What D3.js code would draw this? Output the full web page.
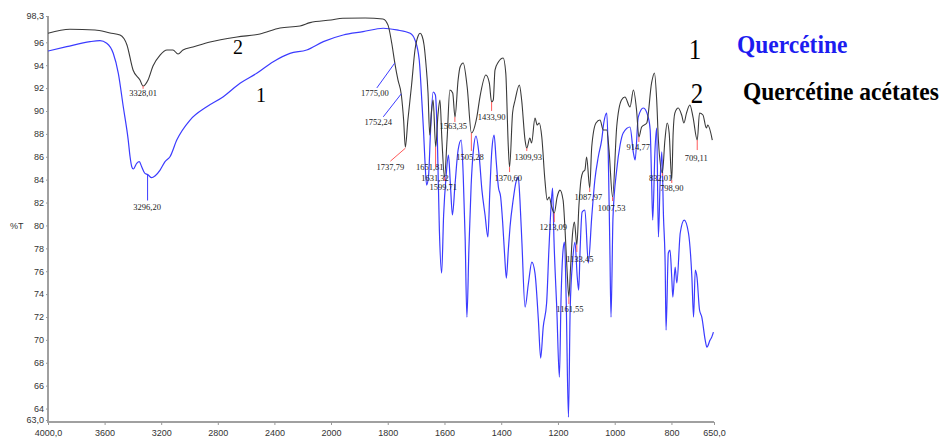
<!DOCTYPE html>
<html>
<head>
<meta charset="utf-8">
<script src="https://cdn.jsdelivr.net/npm/d3@7"></script>
<style>
  body { margin: 0; background: #fff; }
  .tick text { font-family: "Liberation Sans", Arial, sans-serif; font-size: 9px; fill: #333; }
  .tick line { stroke: #999; }
  .domain { stroke: #a0a0a0; stroke-width: 2px; }
  .peak { font-family: "Liberation Serif", "Times New Roman", serif; font-size: 8.5px; fill: #222; }
</style>
</head>
<body>
<svg width="952" height="444"></svg>
<script>
// spectrum 1: Quercétine (blue)
var wnBlue = [4000, 3868, 3703, 3633, 3585, 3539, 3503, 3468, 3433, 3420, 3408, 3397, 3373, 3355, 3338, 3315, 3296, 3267, 3244, 3208,
  3173, 3138, 3090, 2996, 2878, 2761, 2643, 2525, 2408, 2290, 2172, 2054, 1957, 1887, 1816, 1768, 1721, 1704, 1689, 1680,
  1674, 1669, 1663, 1656, 1649, 1640, 1632, 1625, 1618, 1610, 1603, 1594, 1586, 1579, 1572, 1563, 1552, 1541, 1534, 1527,
  1521, 1514, 1506, 1498, 1489, 1478, 1468, 1457, 1447, 1440, 1433, 1425, 1418, 1410, 1402, 1395, 1388, 1382, 1375, 1369,
  1358, 1348, 1340, 1334, 1327, 1316, 1304, 1292, 1281, 1269, 1261, 1252, 1240, 1232, 1224, 1219, 1214, 1204, 1195, 1189,
  1182, 1177, 1171, 1163, 1157, 1148, 1140, 1132, 1127, 1122, 1115, 1105, 1093, 1081, 1070, 1058, 1046, 1038, 1028, 1023,
  1017, 1013, 1006, 993, 981, 970, 946, 934, 928, 917, 899, 882, 875, 870, 866, 858, 852, 846, 840, 834,
  828, 822, 819, 811, 805, 799, 795, 787, 781, 769, 755, 740, 728, 722, 716, 710, 701, 693, 681, 675,
  664, 658, 652];
var tBlue = [95.24, 95.62, 96.06, 96.14, 95.92, 95.04, 93.29, 90.37, 87.46, 86.0, 85.13, 84.93, 85.43, 85.57, 85.13, 84.55, 84.45, 84.17, 84.32, 84.84,
  85.57, 86.0, 87.46, 89.21, 90.37, 91.25, 92.42, 93.29, 94.31, 95.04, 95.33, 96.06, 96.64, 96.93, 97.23, 97.08, 96.79, 96.2, 94.46, 90.96,
  88.34, 85.72, 83.53, 84.4, 88.34, 91.66, 91.4, 87.46, 79.6, 75.84, 80.91, 84.41, 86.15, 83.53, 80.91, 83.53, 86.59, 87.46, 84.41, 78.72,
  71.99, 77.85, 83.53, 86.59, 87.81, 86.15, 83.09, 80.91, 78.99, 83.09, 86.59, 87.9, 85.72, 83.36, 82.48, 80.3, 77.41, 75.4, 77.85, 79.86,
  82.22, 83.79, 84.23, 82.22, 78.46, 72.87, 74.97, 76.8, 75.84, 71.73, 68.41, 71.12, 73.22, 77.85, 81.78, 83.27, 78.72, 72.61, 66.75, 73.74,
  77.85, 78.55, 73.48, 63.25, 72.61, 76.98, 78.55, 75.49, 74.35, 77.85, 81.17, 81.35, 76.71, 80.73, 83.97, 85.98, 87.46, 89.04, 89.82, 86.59,
  77.85, 71.99, 80.73, 84.84, 87.03, 88.08, 88.6, 86.33, 85.72, 89.47, 90.26, 89.47, 88.34, 83.97, 80.47, 86.59, 88.51, 78.99, 83.71, 86.42,
  80.73, 76.36, 70.86, 77.59, 77.85, 75.49, 73.74, 76.36, 74.97, 79.34, 80.47, 79.34, 75.49, 71.99, 76.1, 75.49, 72.61, 71.99, 69.98, 69.37,
  69.98, 70.24, 70.68];

// spectrum 2: Quercétine acétates (black)
var wnBlack = [4000, 3845, 3668, 3562, 3491, 3442, 3399, 3350, 3328, 3293, 3258, 3208, 3159, 3117, 3081, 3046, 2975, 2855, 2664, 2502,
  2360, 2219, 2148, 2000, 1958, 1880, 1817, 1799, 1786, 1775, 1764, 1752, 1744, 1738, 1729, 1716, 1704, 1693, 1686, 1679,
  1672, 1665, 1658, 1652, 1646, 1640, 1631, 1623, 1616, 1609, 1600, 1591, 1581, 1571, 1563, 1552, 1545, 1534, 1520, 1505,
  1486, 1475, 1454, 1442, 1434, 1428, 1422, 1410, 1393, 1384, 1375, 1370.6, 1360, 1351, 1336, 1328, 1316, 1310, 1299, 1293,
  1281, 1273, 1266, 1257, 1246, 1238, 1231, 1222, 1213, 1203, 1193, 1182, 1175, 1168, 1161.5, 1156, 1149, 1142, 1133.5, 1126,
  1119, 1112, 1105, 1099, 1088, 1081, 1066, 1052, 1040, 1028, 1020, 1007.5, 993, 976, 964, 946, 934, 923, 914.8, 905,
  887, 870, 860, 852, 846, 832, 823, 815, 808, 799, 794, 788, 776, 764, 756, 747, 735, 724, 709, 701,
  689, 677, 672, 656];
var tBlack = [96.79, 97.14, 97.08, 96.82, 96.64, 95.77, 93.58, 92.71, 92.18, 92.71, 93.93, 94.89, 95.33, 95.33, 94.98, 95.33, 95.59, 96.03, 96.47, 96.73,
  97.25, 97.43, 97.72, 97.95, 98.1, 98.13, 98.04, 97.5, 95.94, 94.19, 92.71, 91.4, 89.21, 86.85, 89.21, 92.27, 95.33, 96.55, 96.79, 96.55,
  95.77, 94.02, 91.57, 87.9, 89.91, 90.96, 86.85, 89.65, 90.96, 87.46, 84.23, 87.46, 91.83, 91.57, 89.47, 92.71, 93.84, 94.19, 92.1, 88.08,
  89.47, 91.22, 93.14, 92.45, 90.79, 90.96, 93.58, 94.28, 94.63, 93.32, 86.85, 85.1, 89.82, 90.96, 92.27, 90.96, 87.46, 86.76, 87.64, 87.2,
  89.39, 88.77, 88.95, 87.73, 83.97, 82.22, 82.48, 81.61, 81.08, 82.48, 83.09, 82.22, 79.6, 76.1, 73.74, 76.1, 79.16, 80.3, 78.29, 81.78,
  83.97, 84.67, 84.84, 85.98, 83.27, 86.85, 88.95, 89.21, 88.34, 88.34, 86.59, 82.48, 88.6, 90.96, 91.22, 90.35, 91.83, 90.09, 87.73, 88.6,
  88.95, 92.45, 93.32, 90.96, 87.46, 84.58, 87.46, 88.95, 88.08, 83.97, 88.08, 89.82, 90.26, 89.65, 88.95, 89.82, 90.52, 89.47, 87.46, 89.82,
  89.65, 88.51, 88.77, 87.46];

// axis ticks
var xTicks = [4000, 3600, 3200, 2800, 2400, 2000, 1800, 1600, 1400, 1200, 1000, 800, 650];
var yTicks = [98.3, 96, 94, 92, 90, 88, 86, 84, 82, 80, 78, 76, 74, 72, 70, 68, 66, 64, 63];

// annotated peaks
var peakText = ["3328,01", "3296,20", "1775,00", "1752,24", "1737,79", "1651,81", "1631,32", "1599,71", "1563,35", "1505,28",
  "1433,90", "1370,60", "1309,93", "1213,09", "1161,55", "1133,45", "1087,97", "1007,53", "914,77", "832,01", "798,90", "709,11"];
var peakWn = [3328.01, 3296.20, 1775.00, 1752.24, 1737.79, 1651.81, 1631.32, 1599.71, 1563.35, 1505.28,
  1433.90, 1370.60, 1309.93, 1213.09, 1161.55, 1133.45, 1087.97, 1007.53, 914.77, 832.01, 798.90, 709.11];
var peakT = [92.2, 84.45, 94.2, 91.5, 86.75, 87.9, 86.85, 84.23, 89.47, 88.08,
  90.79, 85.1, 86.76, 81.08, 73.74, 78.29, 83.27, 82.48, 87.73, 84.58, 83.97, 87.46];

// leader line end (dx,dy) and label offset (dx,dy), in px from the peak point
var peakLayout = [[0,3,0,10], [0,26,-0.5,35.5], [-18,25,-20,33], [-18,23,-23,31], [-15,13,-15,22], [0,0,0,35],
  [0,20,-0.6,33.5], [0,4,-1.3,13], [0,5,-1.7,12], [0,18,-1.3,27.5], [0,9,0,18.5], [0,5,-1.3,13.5], [0,3,1.5,12],
  [0,9,-1,17], [0,7,1,14.5], [0,7,3,16.5], [0,4,-1.4,12], [0,4,-1,13.5], [0,5,-0.6,13], [0,3,-1.7,8], [0,3,0,10.5], [0,10,-1,21]];
var peakColor = ["#ff5a5a", "#3b3bff", "#3b3bff", "#3b3bff", "#ff5a5a", "none"];

var svg = d3.select("svg");

var x = d3.scaleLinear().domain([4000, 2000, 650]).range([48, 331, 714]);
var y = d3.scaleLinear().domain([63, 98.3]).range([420, 16]);

function commaFmt(v) {
    if (v == 4000 || v == 650 || v == 63) return v.toFixed(1).replace(".", ",");
    if (v == 98.3) return "98,3";
    return String(v);
}

var xAxis = svg.append("g")
    .attr("transform", "translate(0,422)")
    .call(d3.axisBottom(x).tickValues(xTicks).tickFormat(commaFmt).tickSize(3).tickSizeOuter(0).tickPadding(5));
xAxis.select(".domain").attr("d", "M47,0H714");

var yAxis = svg.append("g")
    .attr("transform", "translate(48,0)")
    .call(d3.axisLeft(y).tickValues(yTicks).tickFormat(commaFmt).tickSize(2).tickSizeOuter(0).tickPadding(2));
yAxis.select(".domain").attr("d", "M0,423V16");

svg.append("text")
    .attr("x", 10).attr("y", 229)
    .attr("font-family", "Liberation Sans, sans-serif")
    .attr("font-size", 9).attr("fill", "#333")
    .text("%T");

var line = d3.line()
    .x(function (d) { return x(d[0]); })
    .y(function (d) { return y(d[1]); })
    .curve(d3.curveMonotoneX);

svg.append("path")
    .datum(d3.zip(wnBlue, tBlue))
    .attr("d", line)
    .attr("fill", "none")
    .attr("stroke", "#3b3bff")
    .attr("stroke-width", 1.2);

svg.append("path")
    .datum(d3.zip(wnBlack, tBlack))
    .attr("d", line)
    .attr("fill", "none")
    .attr("stroke", "#3a3a3a")
    .attr("stroke-width", 1.1);

// peak marks
var peaks = svg.selectAll(".pk")
    .data(peakText)
    .enter()
    .append("g")
    .attr("class", "pk")
    .attr("transform", function (d, i) { return "translate(" + x(peakWn[i]) + "," + y(peakT[i]) + ")"; });

peaks.append("line")
    .attr("x1", 0).attr("y1", 0)
    .attr("x2", function (d, i) { return peakLayout[i][0]; })
    .attr("y2", function (d, i) { return peakLayout[i][1]; })
    .attr("stroke", function (d, i) { return peakColor[i] || "#ff5a5a"; })
    .attr("stroke-width", 1);

peaks.append("text")
    .attr("class", "peak")
    .attr("text-anchor", "middle")
    .attr("x", function (d, i) { return peakLayout[i][2]; })
    .attr("y", function (d, i) { return peakLayout[i][3]; })
    .text(function (d) { return d; });

// curve numbers
var serif = "Liberation Serif, Times New Roman, serif";
svg.append("text").attr("x", 238).attr("y", 54).attr("text-anchor", "middle")
    .attr("font-family", serif).attr("font-size", 20).text("2");
svg.append("text").attr("x", 261).attr("y", 102).attr("text-anchor", "middle")
    .attr("font-family", serif).attr("font-size", 20).text("1");

// legend
var legend = svg.append("g");
legend.append("text").attr("transform", "translate(695,59) scale(1,1.15)").attr("text-anchor", "middle")
    .attr("font-family", serif).attr("font-size", 25).text("1");
legend.append("text").attr("transform", "translate(697,103) scale(1,1.15)").attr("text-anchor", "middle")
    .attr("font-family", serif).attr("font-size", 25).text("2");
legend.append("text").attr("transform", "translate(737,53) scale(1,1.1)")
    .attr("font-family", serif).attr("font-size", 23.5).attr("font-weight", "bold")
    .attr("fill", "#1c1cf0").text("Quercétine");
legend.append("text").attr("transform", "translate(743,100) scale(1,1.1)")
    .attr("font-family", serif).attr("font-size", 23.5).attr("font-weight", "bold")
    .attr("fill", "#000").text("Quercétine acétates");
</script>
</body>
</html>
